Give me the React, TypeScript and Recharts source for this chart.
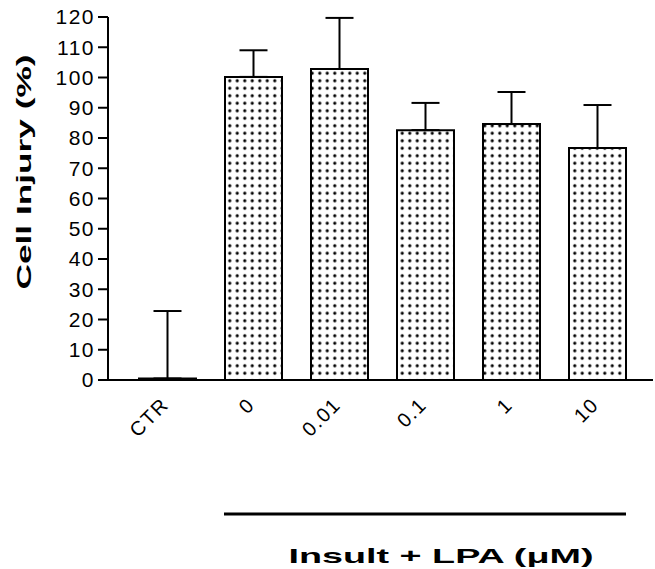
import React from 'react';
import { BarChart, Bar, XAxis, YAxis, ErrorBar, ReferenceLine } from 'recharts';

const categories = ['CTR', '0', '0.01', '0.1', '1', '10'];
const injury = [0.5, 100.2, 102.8, 82.6, 84.6, 76.7];
const injuryErr = [22.3, 8.8, 16.9, 9.0, 10.6, 14.2];
const yTicks = [0, 10, 20, 30, 40, 50, 60, 70, 80, 90, 100, 110, 120];
const yLabel = 'Cell Injury (%)';
const groupLabel = 'Insult + LPA (\u03BCM)';
const groupFrom = '0';
const groupTo = '10';
const groupLevel = -44.3;

const data = categories.map((c, i) => ({ name: c, value: injury[i], err: [0, injuryErr[i]] }));

const FONT = "'Liberation Sans', Arial, Helvetica, sans-serif";

const XTick = (props: any) => {
  const { x, y, payload } = props;
  const tx = x + 3;
  const ty = y;
  return (
    <text
      x={tx}
      y={ty}
      transform={`rotate(-45 ${tx} ${ty})`}
      textAnchor="end"
      fontFamily={FONT}
      fontSize={20}
      letterSpacing={1.5}
      fill="#000"
    >
      {payload.value}
    </text>
  );
};

const YLabel = () => (
  <text
    x={31}
    y={172}
    transform="rotate(-90 31 172)"
    textAnchor="middle"
    fontFamily={FONT}
    fontWeight="bold"
    fontSize={21}
    textLength={235}
    lengthAdjust="spacingAndGlyphs"
    fill="#000"
  >
    {yLabel}
  </text>
);

const GroupLine = (p: any) => {
  const half = 29;
  const x1 = Math.min(p.x1, p.x2) - half;
  const x2 = Math.max(p.x1, p.x2) + half;
  const cx = (x1 + x2) / 2 + 16;
  return (
    <g>
      <line x1={x1} y1={p.y1} x2={x2} y2={p.y2} stroke="#000" strokeWidth={3} />
      <text
        x={cx}
        y={p.y1 + 49}
        textAnchor="middle"
        fontFamily={FONT}
        fontWeight="bold"
        fontSize={21}
        textLength={305}
        lengthAdjust="spacingAndGlyphs"
        fill="#000"
      >
        {groupLabel}
      </text>
    </g>
  );
};

export default function App() {
  return (
    <div style={{ position: 'absolute', left: 0, top: 0, background: '#fff' }}>
      <BarChart
        width={655}
        height={569}
        data={data}
        margin={{ top: 17, right: 2, bottom: 159, left: 0 }}
        barSize={57}
      >
        <defs>
          <pattern id="dots" patternUnits="userSpaceOnUse" width={7.5} height={7.5} x={1} y={2}>
            <rect width={7.5} height={7.5} fill="#fff" />
            <circle cx={3.75} cy={3.75} r={1.6} fill="#000" />
          </pattern>
        </defs>
        <XAxis
          dataKey="name"
          height={30}
          tickLine={false}
          tickSize={0}
          tickMargin={26}
          axisLine={{ stroke: '#000', strokeWidth: 2 }}
          padding={{ left: 16, right: 13 }}
          interval={0}
          tick={<XTick />}
        />
        <YAxis
          width={108}
          domain={[0, 120]}
          ticks={yTicks}
          interval={0}
          tickSize={10}
          tickMargin={3}
          axisLine={{ stroke: '#000', strokeWidth: 2 }}
          tickLine={{ stroke: '#000', strokeWidth: 2 }}
          tick={{ fill: '#000', fontSize: 21, fontFamily: FONT, letterSpacing: 1.5 }}
          label={{ content: <YLabel /> }}
        />
        <Bar dataKey="value" fill="url(#dots)" stroke="#000" strokeWidth={2} isAnimationActive={false}>
          <ErrorBar dataKey="err" width={14} stroke="#000" strokeWidth={2} direction="y" />
        </Bar>
        <ReferenceLine
          segment={[{ x: groupFrom, y: groupLevel }, { x: groupTo, y: groupLevel }]}
          ifOverflow="visible"
          shape={<GroupLine />}
        />
      </BarChart>
    </div>
  );
}
